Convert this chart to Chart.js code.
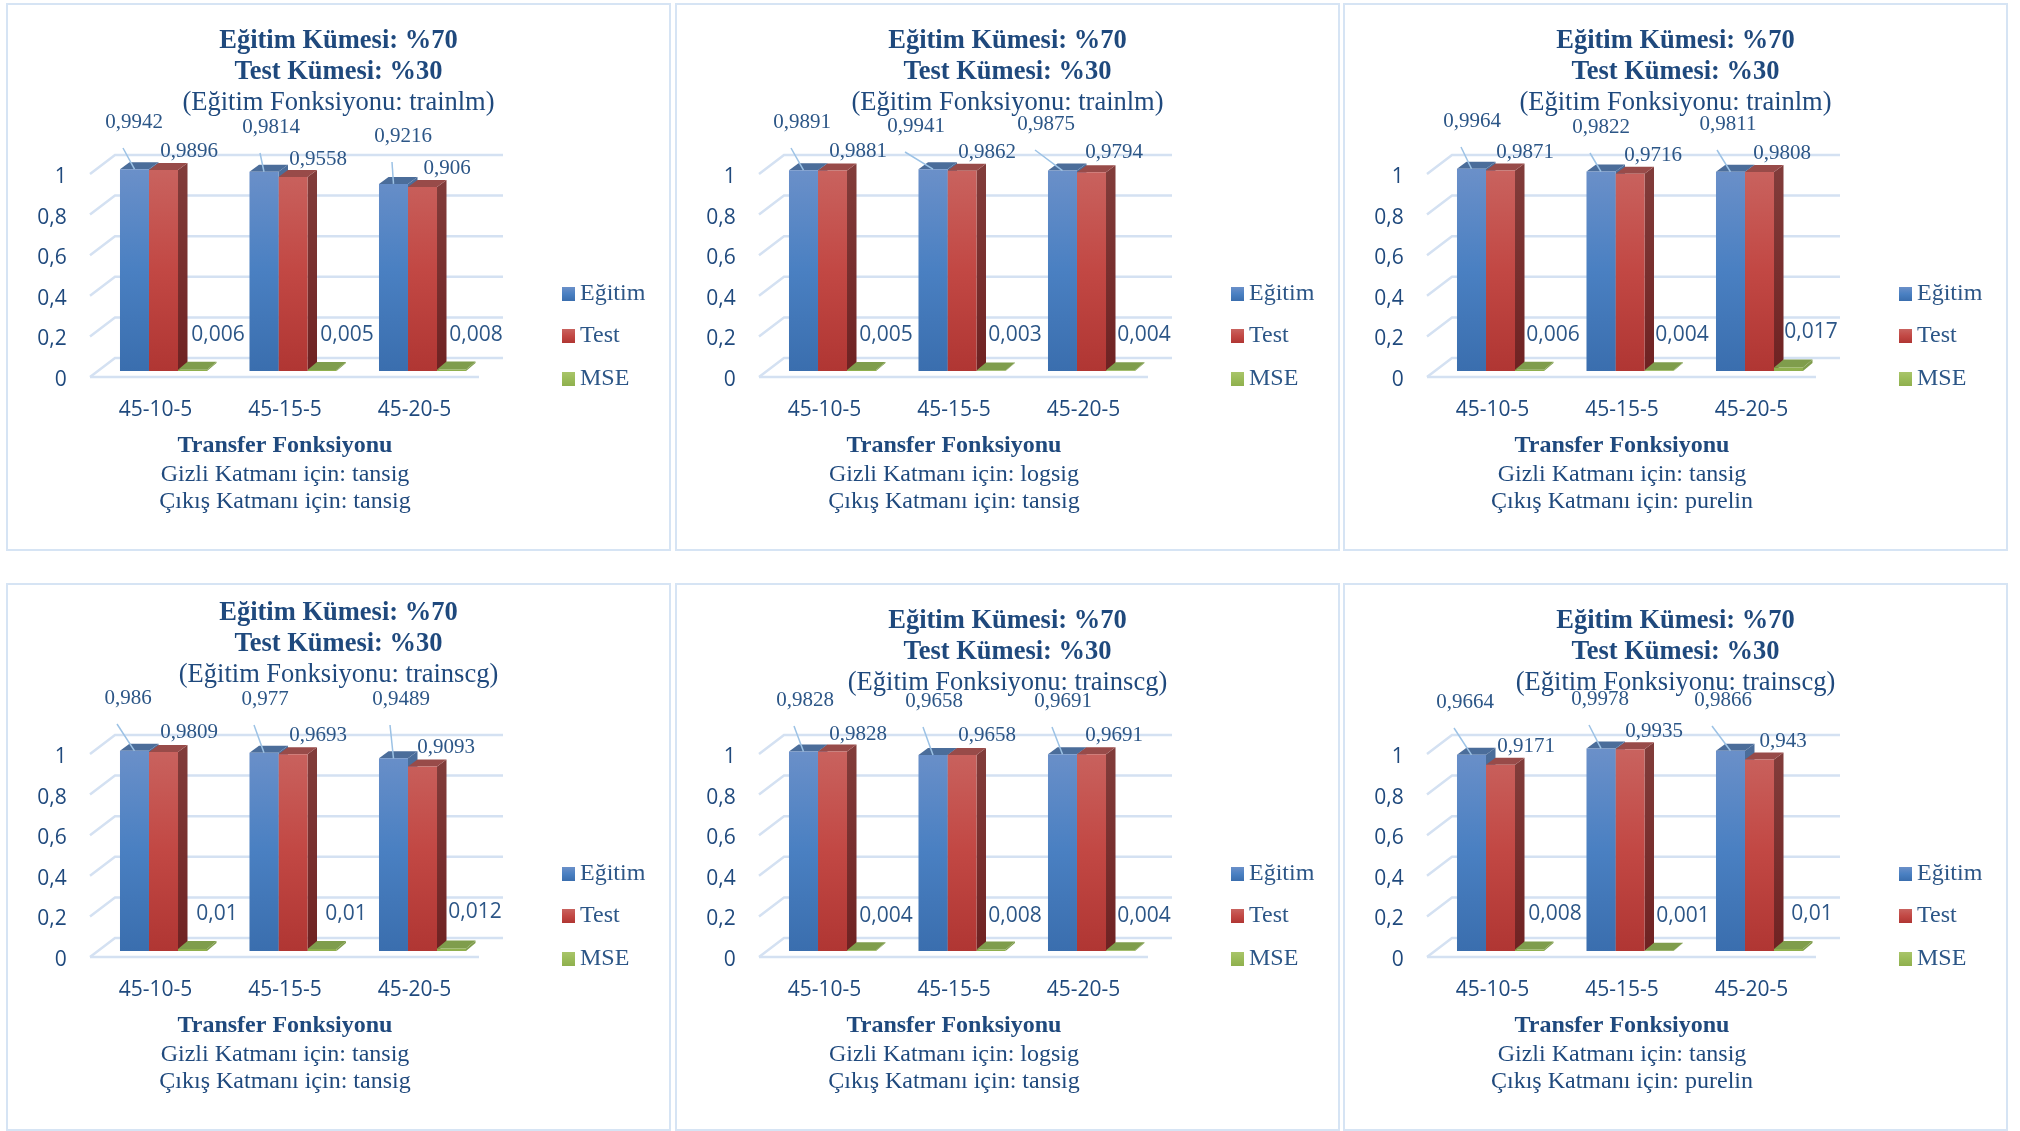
<!DOCTYPE html>
<html lang="tr">
<head>
<meta charset="utf-8">
<title>Eğitim ve Test Sonuçları</title>
<script src="https://cdn.jsdelivr.net/npm/chart.js@4"></script>
<style>
    html, body { margin: 0; padding: 0; background: #fff; }
    body { position: relative; width: 2020px; height: 1131px; overflow: hidden; }
    .panel { position: absolute; width: 665px; height: 548px; box-sizing: border-box; border: 2px solid #d6e4f4; }
    .panel canvas { position: absolute; left: -2px; top: -2px; }
</style>
</head>
<body>
<script>
    /* --- Data --- */
    const categories = ['45-10-5', '45-15-5', '45-20-5'];
    const seriesNames = ['Eğitim', 'Test', 'MSE'];
    const yTicks = [0, 0.2, 0.4, 0.6, 0.8, 1];

    const egitimValues = [
        [0.9942, 0.9814, 0.9216],
        [0.9891, 0.9941, 0.9875],
        [0.9964, 0.9822, 0.9811],
        [0.986, 0.977, 0.9489],
        [0.9828, 0.9658, 0.9691],
        [0.9664, 0.9978, 0.9866]
    ];
    const testValues = [
        [0.9896, 0.9558, 0.906],
        [0.9881, 0.9862, 0.9794],
        [0.9871, 0.9716, 0.9808],
        [0.9809, 0.9693, 0.9093],
        [0.9828, 0.9658, 0.9691],
        [0.9171, 0.9935, 0.943]
    ];
    const mseValues = [
        [0.006, 0.005, 0.008],
        [0.005, 0.003, 0.004],
        [0.006, 0.004, 0.017],
        [0.01, 0.01, 0.012],
        [0.004, 0.008, 0.004],
        [0.008, 0.001, 0.01]
    ];

    const trainFunctions = ['trainlm', 'trainlm', 'trainlm', 'trainscg', 'trainscg', 'trainscg'];
    const hiddenFunctions = ['tansig', 'logsig', 'tansig', 'tansig', 'logsig', 'tansig'];
    const outputFunctions = ['tansig', 'tansig', 'purelin', 'tansig', 'tansig', 'purelin'];

    /* --- Layout --- */
    const panelLefts = [6, 675, 1343, 6, 675, 1343];
    const panelTops = [3, 3, 3, 583, 583, 583];
    const titleShift = [0, 0, 0, -8, 0, 0];

    // hand placed value labels, [x, y] inside each panel
    const egitimSpots = [
        [[128, 119], [265, 124], [397, 133]],
        [[127, 119], [241, 123], [371, 121]],
        [[129, 118], [258, 124], [385, 121]],
        [[122, 115], [259, 116], [395, 116]],
        [[130, 117], [259, 118], [388, 118]],
        [[122, 119], [257, 116], [380, 117]]
    ];
    const testSpots = [
        [[183, 148], [312, 156], [441, 165]],
        [[183, 148], [312, 149], [439, 149]],
        [[182, 149], [310, 152], [439, 150]],
        [[183, 149], [312, 152], [440, 164]],
        [[183, 151], [312, 152], [439, 152]],
        [[183, 163], [311, 148], [440, 158]]
    ];
    const mseSpots = [
        [[212, 332], [341, 332], [470, 332]],
        [[211, 332], [340, 332], [469, 332]],
        [[210, 332], [339, 332], [468, 329]],
        [[211, 331], [340, 331], [469, 329]],
        [[211, 333], [340, 333], [469, 333]],
        [[212, 331], [340, 333], [469, 331]]
    ];

    const TEXT_COLOR = '#1f497d';
    const LABEL_COLOR = '#2c5687';
    const GRID_COLOR = '#d4e1f2';
    const SERIF = '"Liberation Serif", serif';
    const SANS = '"Open Sans", sans-serif';
    const DEPTH_X = 9.5;
    const DEPTH_Y = 7;

    const faceColors = [
        { top: '#4b6d9a', side: ['#4b6d9a', '#3b5a85'], front: ['#6b90c9', '#4a80c2', '#3a6eae'] },
        { top: '#984b49', side: ['#813c3a', '#6f2222'], front: ['#c9635f', '#c24844', '#b03633'] },
        { top: '#7f9d4c', side: ['#7f9d4c', '#7f9d4c'], front: ['#a9c56a', '#9bbb59', '#8fb04e'] }
    ];

    function verticalGradient(ctx, top, bottom, stops) {
        const g = ctx.createLinearGradient(0, top, 0, bottom);
        stops.forEach((c, i) => g.addColorStop(i / (stops.length - 1), c));
        return g;
    }

    function commaText(v) {
        return String(v).replace('.', ',');
    }

    function face(ctx, points, fill) {
        ctx.beginPath();
        points.forEach((p, i) => i ? ctx.lineTo(p[0], p[1]) : ctx.moveTo(p[0], p[1]));
        ctx.closePath();
        ctx.fillStyle = fill;
        ctx.fill();
    }

    /* --- Back wall, floor and bar depth --- */
    const depthPlugin = {
        id: 'depth',
        beforeDatasetsDraw(chart) {
            const { ctx, scales: { y } } = chart;
            ctx.save();
            ctx.strokeStyle = GRID_COLOR;
            ctx.lineWidth = 2.5;
            y.ticks.forEach(t => {
                const py = y.getPixelForValue(t.value);
                ctx.beginPath();
                ctx.moveTo(84, py + 6);
                ctx.lineTo(109, py - 13);
                ctx.lineTo(497, py - 13);
                ctx.stroke();
            });
            const floorY = y.getPixelForValue(0) + 6;
            ctx.beginPath();
            ctx.moveTo(84, floorY);
            ctx.lineTo(473, floorY);
            ctx.stroke();

            // side and top faces go under the native bar fronts
            chart.data.datasets.forEach((ds, d) => {
                const colors = faceColors[d];
                chart.getDatasetMeta(d).data.forEach(bar => {
                    const half = bar.width / 2;
                    const left = bar.x - half;
                    const right = bar.x + half;
                    const dy = d === 2 ? 8 : DEPTH_Y;
                    face(ctx, [[right, bar.y], [right + DEPTH_X, bar.y - dy], [right + DEPTH_X, bar.base - dy], [right, bar.base]],
                        verticalGradient(ctx, bar.y, bar.base, colors.side));
                    face(ctx, [[left, bar.y], [left + DEPTH_X, bar.y - dy], [right + DEPTH_X, bar.y - dy], [right, bar.y]], colors.top);
                });
            });
            ctx.restore();
        }
    };

    /* --- Value labels, legend and the text under the axis --- */
    const notesPlugin = {
        id: 'notes',
        afterDraw(chart, args, opts) {
            const { ctx } = chart;
            const i = opts.panel;
            ctx.save();
            ctx.textAlign = 'center';
            ctx.textBaseline = 'middle';

            const spots = [egitimSpots[i], testSpots[i], mseSpots[i]];
            chart.data.datasets.forEach((ds, d) => {
                chart.getDatasetMeta(d).data.forEach((bar, k) => {
                    const [sx, sy] = spots[d][k];
                    if (d === 0) {
                        ctx.strokeStyle = '#9cc2e5';
                        ctx.lineWidth = 1.5;
                        ctx.beginPath();
                        ctx.moveTo(sx - 11, sy + 26);
                        ctx.lineTo(bar.x, bar.y);
                        ctx.stroke();
                    }
                    ctx.fillStyle = LABEL_COLOR;
                    ctx.font = d === 2 ? '21px ' + SANS : '21px ' + SERIF;
                    ctx.fillText(commaText(ds.data[k]), sx, sy);
                });
            });

            // legend column
            const legendY = [291, 333, 376];
            ctx.textAlign = 'left';
            ctx.font = '24px ' + SERIF;
            seriesNames.forEach((name, d) => {
                ctx.fillStyle = verticalGradient(ctx, legendY[d] - 7, legendY[d] + 7, faceColors[d].front);
                ctx.fillRect(556, legendY[d] - 7, 13, 14);
                ctx.fillStyle = LABEL_COLOR;
                ctx.fillText(name, 574, legendY[d]);
            });

            ctx.textAlign = 'center';
            ctx.fillStyle = TEXT_COLOR;
            ctx.font = 'bold 24px ' + SERIF;
            ctx.fillText('Transfer Fonksiyonu', 279, 443);
            ctx.font = '24px ' + SERIF;
            ctx.fillText('Gizli Katmanı için: ' + hiddenFunctions[i], 279, 472);
            ctx.fillText('Çıkış Katmanı için: ' + outputFunctions[i], 279, 499);
            ctx.restore();
        }
    };

    /* --- Panels --- */
    egitimValues.forEach((_, i) => {
        const panel = document.createElement('div');
        panel.className = 'panel';
        panel.style.left = panelLefts[i] + 'px';
        panel.style.top = panelTops[i] + 'px';
        const canvas = document.createElement('canvas');
        canvas.width = 665;
        canvas.height = 548;
        panel.appendChild(canvas);
        document.body.appendChild(panel);

        const seriesData = [egitimValues[i], testValues[i], mseValues[i]];

        new Chart(canvas.getContext('2d'), {
            type: 'bar',
            plugins: [depthPlugin, notesPlugin],
            data: {
                labels: categories,
                datasets: seriesNames.map((name, d) => ({
                    label: name,
                    data: seriesData[d],
                    backgroundColor: c => {
                        const area = c.chart.chartArea;
                        if (!area) return faceColors[d].front[1];
                        return verticalGradient(c.chart.ctx, area.top, area.bottom, faceColors[d].front);
                    },
                    borderWidth: 0,
                    barPercentage: 1,
                    categoryPercentage: 0.672
                }))
            },
            options: {
                responsive: false,
                animation: false,
                layout: { padding: 0 },
                plugins: {
                    legend: { display: false },
                    tooltip: { enabled: false },
                    title: {
                        display: true,
                        text: ['Eğitim Kümesi: %70', 'Test Kümesi: %30'],
                        color: TEXT_COLOR,
                        font: { family: SERIF, size: 26.5, weight: 'bold', lineHeight: 31 / 26.5 },
                        padding: { top: 22.5 + titleShift[i], bottom: 0 }
                    },
                    subtitle: {
                        display: true,
                        text: '(Eğitim Fonksiyonu: ' + trainFunctions[i] + ')',
                        color: TEXT_COLOR,
                        font: { family: SERIF, size: 26.5, weight: 'normal', lineHeight: 32 / 26.5 },
                        padding: { top: 0, bottom: 48.5 - titleShift[i] }
                    },
                    notes: { panel: i }
                },
                scales: {
                    x: {
                        grid: { display: false },
                        border: { display: false },
                        afterFit: s => { s.height = 180; },
                        ticks: {
                            color: TEXT_COLOR,
                            font: { family: SANS, size: 21 },
                            padding: 18.5,
                            labelOffset: -8,
                            maxRotation: 0
                        }
                    },
                    y: {
                        min: 0,
                        max: 1,
                        grid: { display: false },
                        border: { display: false },
                        afterFit: s => { s.width = 92.75; },
                        afterBuildTicks: s => { s.ticks = yTicks.map(value => ({ value })); },
                        ticks: {
                            color: TEXT_COLOR,
                            font: { family: SANS, size: 21 },
                            padding: 24,
                            labelOffset: 9,
                            callback: v => commaText(v)
                        }
                    },
                    // empty axis, keeps the room on the right for the legend column
                    legendRoom: {
                        position: 'right',
                        grid: { display: false },
                        border: { display: false },
                        ticks: { display: false },
                        afterFit: s => { s.width = 183.75; }
                    }
                }
            }
        });
    });
</script>
</body>
</html>
